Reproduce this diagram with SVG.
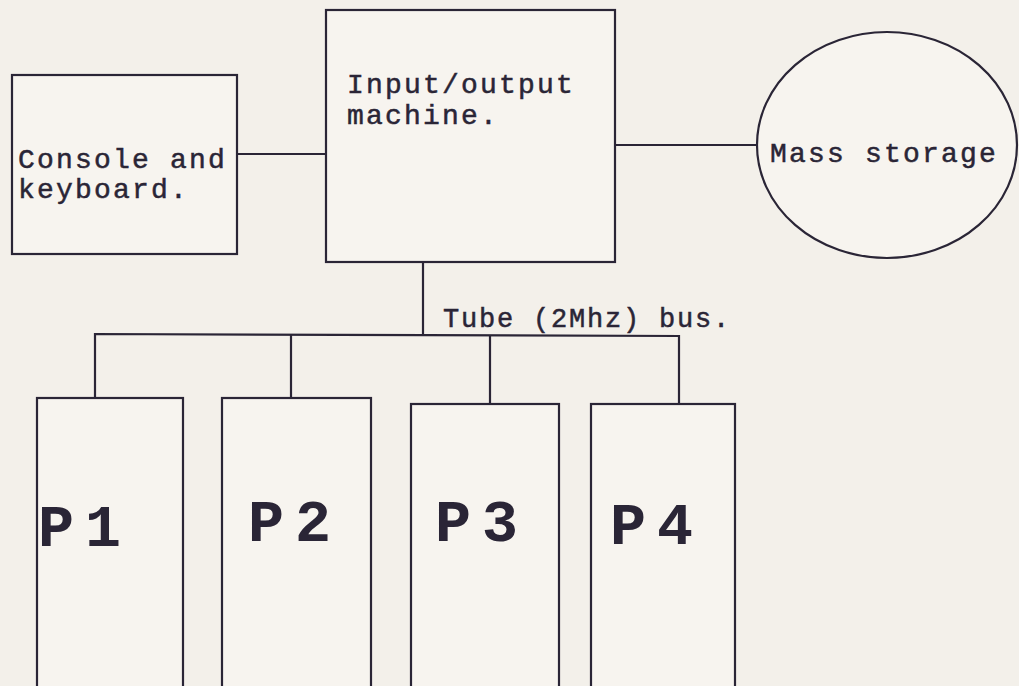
<svg xmlns="http://www.w3.org/2000/svg" width="1019" height="686" viewBox="0 0 1019 686">
<style>
.box{fill:#f7f4ef;stroke:#2a2536;stroke-width:2.2}
.ln{fill:none;stroke:#2a2536;stroke-width:2.2}
.t{font-family:"Liberation Mono",monospace;font-size:28px;letter-spacing:2.2px;fill:#2a2536;stroke:#2a2536;stroke-width:0.5}
.p{font-family:"Liberation Mono",monospace;font-size:60px;font-weight:bold;letter-spacing:11px;fill:#2a2536}
</style>
<rect width="1019" height="686" fill="#f3f0ea"/>
<g id="connectors">
<line class="ln" x1="237" y1="154" x2="326" y2="154"/>
<line class="ln" x1="615" y1="145" x2="757" y2="145"/>
<line class="ln" x1="423" y1="262" x2="423" y2="335"/>
<polyline class="ln" points="95,398 95,334 679,336 679,404"/>
<line class="ln" x1="291" y1="335" x2="291" y2="398"/>
<line class="ln" x1="490" y1="335" x2="490" y2="404"/>
<text class="t" x="443" y="327" style="font-size:27px;letter-spacing:1.8px">Tube (2Mhz) bus.</text>
</g>
<g id="console">
<rect class="box" x="12" y="75" width="225" height="179"/>
<text class="t" x="18" y="168">Console and</text>
<text class="t" x="18" y="198">keyboard.</text>
</g>
<g id="io">
<rect class="box" x="326" y="10" width="289" height="252"/>
<text class="t" x="347" y="93">Input/output</text>
<text class="t" x="347" y="124">machine.</text>
</g>
<g id="mass">
<ellipse class="box" cx="887" cy="145" rx="130" ry="113"/>
<text class="t" x="770" y="162">Mass storage</text>
</g>
<g id="p1">
<rect class="box" x="37" y="398" width="146" height="300"/>
<text class="p" x="38" y="546">P1</text>
</g>
<g id="p2">
<rect class="box" x="222" y="398" width="149" height="300"/>
<text class="p" x="248" y="541">P2</text>
</g>
<g id="p3">
<rect class="box" x="411" y="404" width="148" height="300"/>
<text class="p" x="435" y="541">P3</text>
</g>
<g id="p4">
<rect class="box" x="591" y="404" width="144" height="300"/>
<text class="p" x="610" y="544">P4</text>
</g>
</svg>
